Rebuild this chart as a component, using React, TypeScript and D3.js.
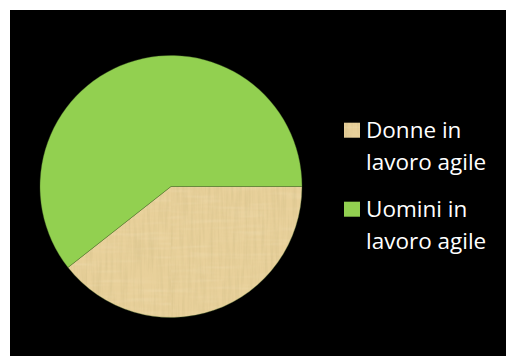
import React from "react";
import * as d3 from "d3";

const categories = ["Donne in lavoro agile", "Uomini in lavoro agile"];
const values = [39.4, 60.6];
const legendLines = [["Donne in", "lavoro agile"], ["Uomini in", "lavoro agile"]];
const colors = ["url(#papyrus)", "#92d050"];
const legendColors = ["#e3c88e", "#92d050"];

export default function App() {
  const W = 506, H = 356;
  const cx = 171, cy = 186.5, r = 131;
  const pie = d3.pie<number>().sort(null).startAngle(Math.PI / 2).endAngle(Math.PI / 2 + 2 * Math.PI);
  const arcs = pie(values);
  const arc = d3.arc<d3.PieArcDatum<number>>().innerRadius(0).outerRadius(r);
  return (
    <svg width={W} height={H} style={{ position: "absolute", left: 0, top: 0 }}>
      <defs>
        <filter id="fib" x="0" y="0" width="100%" height="100%">
          <feTurbulence type="fractalNoise" baseFrequency="0.35 0.025" numOctaves="2" seed="3" result="n1" />
          <feColorMatrix in="n1" type="matrix" values="0 0 0 0 0.55  0 0 0 0 0.45  0 0 0 0 0.2  0 0 0 1.2 -0.45" result="c1" />
          <feComposite in="c1" in2="SourceGraphic" operator="in" />
        </filter>
        <filter id="fib2" x="0" y="0" width="100%" height="100%">
          <feTurbulence type="fractalNoise" baseFrequency="0.02 0.3" numOctaves="2" seed="7" result="n1" />
          <feColorMatrix in="n1" type="matrix" values="0 0 0 0 1  0 0 0 0 0.95  0 0 0 0 0.8  0 0 0 1 -0.5" result="c1" />
          <feComposite in="c1" in2="SourceGraphic" operator="in" />
        </filter>
        <pattern id="papyrus" patternUnits="userSpaceOnUse" x="0" y="0" width="300" height="300">
          <rect width="300" height="300" fill="#e8d09a" />
          <rect width="300" height="300" fill="#fff" filter="url(#fib)" opacity="0.5" />
          <rect width="300" height="300" fill="#fff" filter="url(#fib2)" opacity="0.4" />
        </pattern>
      </defs>
      <rect x={10} y={10} width={W - 10} height={H - 10} fill="#000" />
      <g transform={`translate(${cx},${cy})`}>
        {arcs.map((a, i) => (
          <path key={categories[i]} d={arc(a) || ""} fill={colors[i]} stroke="#4a6a2a" strokeWidth={0.6} strokeOpacity={0.6} />
        ))}
      </g>
      {legendLines.map((lines, i) => {
        const y0 = 137.7 + i * 79;
        return (
          <g key={i}>
            <rect x={344} y={y0 - 15} width={16} height={15} fill={i === 0 ? "url(#papyrus)" : legendColors[i]} />
            {lines.map((t, j) => (
              <text key={j} x={366} y={y0 + j * 31.8} fill="#fff" fontFamily="'Open Sans', sans-serif" fontSize={22.5}>
                {t}
              </text>
            ))}
          </g>
        );
      })}
    </svg>
  );
}
